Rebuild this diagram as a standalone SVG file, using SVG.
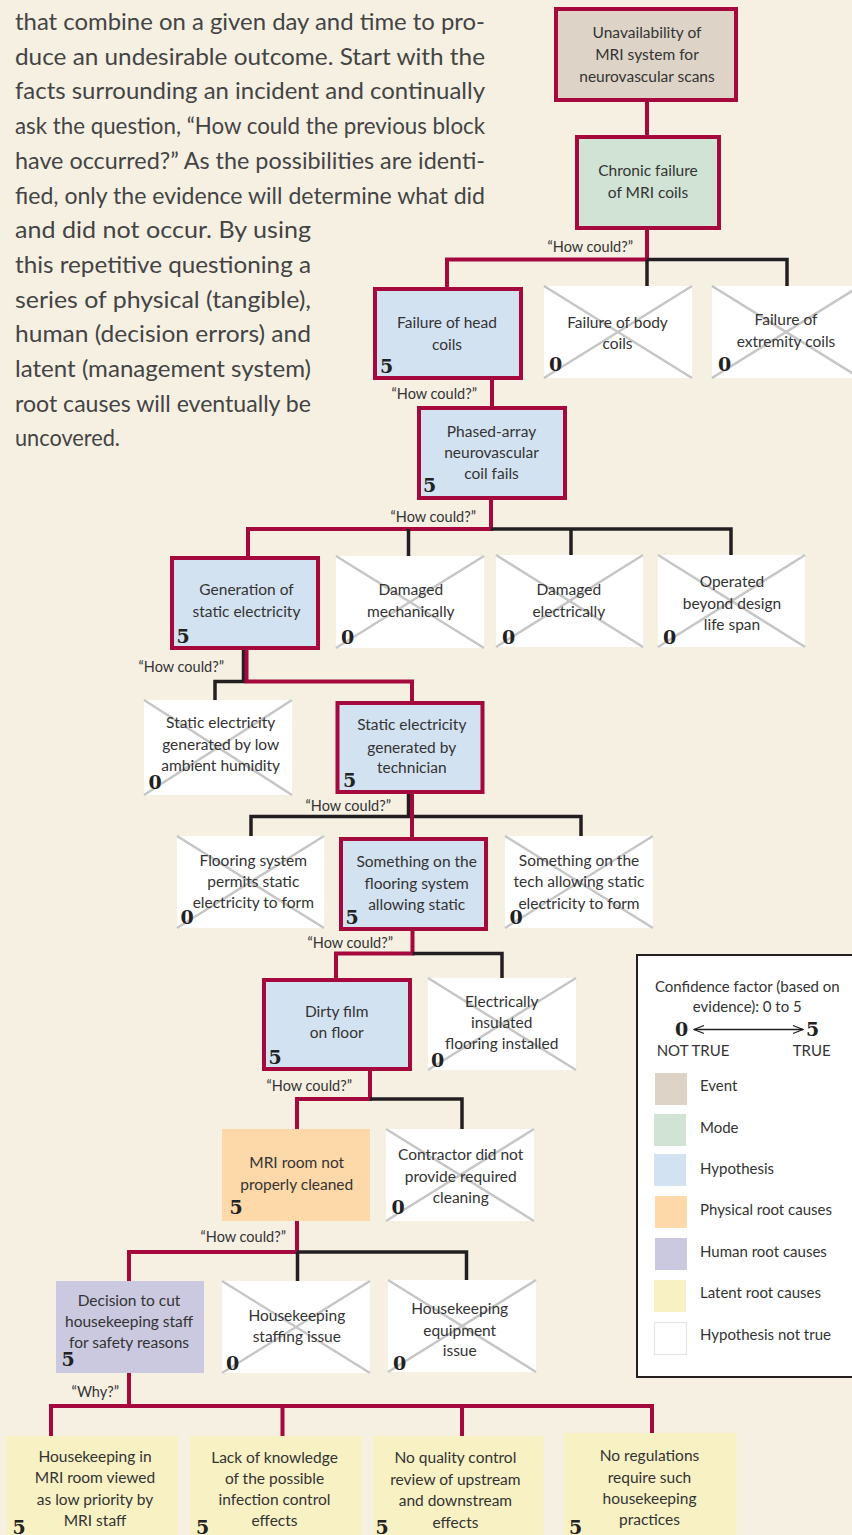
<svg xmlns="http://www.w3.org/2000/svg" width="852" height="1535" viewBox="0 0 852 1535">
<defs>
<style>
.bg{fill:#f6f0e3}
.cr{fill:none;stroke:#a4083c;stroke-width:4}
.bk{fill:none;stroke:#231f20;stroke-width:3.5}
.ev{fill:#ddd3c7;stroke:#a4083c;stroke-width:4}
.mo{fill:#d0e3d5;stroke:#a4083c;stroke-width:4}
.hy{fill:#d3e2f1;stroke:#a4083c;stroke-width:4}
.ph{fill:#fdd8a8}
.hu{fill:#cbc9e0}
.la{fill:#f8f1c4}
.nt{fill:#ffffff}
.x{stroke:#c6c6c6;stroke-width:2.5;fill:none}
.t{font-family:Lato,"Liberation Sans",sans-serif;font-size:15.5px;fill:#333;text-anchor:middle}
.n{font-family:"DejaVu Serif","Liberation Serif",serif;font-weight:bold;font-size:19px;fill:#222}
.lb{font-family:Lato,"Liberation Sans",sans-serif;font-size:14.5px;fill:#333;text-anchor:end}
.body{font-family:Lato,"Liberation Sans",sans-serif;font-size:23px;fill:#444}
.lg{font-family:Lato,"Liberation Sans",sans-serif;font-size:15px;fill:#333}
.sw{stroke:none}
</style>
<marker id="ah" viewBox="0 0 12 10" refX="11" refY="5" markerWidth="12" markerHeight="10" markerUnits="userSpaceOnUse" orient="auto-start-reverse">
<path d="M1,1 L11,5 L1,9" fill="none" stroke="#231f20" stroke-width="1.2"/>
</marker>
</defs>
<rect class="bg" x="0" y="0" width="852" height="1535"/>

<g id="body-text" class="body">
<text x="15" y="30" textLength="470" lengthAdjust="spacingAndGlyphs">that combine on a given day and time to pro-</text>
<text x="15" y="64.7" textLength="470" lengthAdjust="spacingAndGlyphs">duce an undesirable outcome. Start with the</text>
<text x="15" y="99.4" textLength="470" lengthAdjust="spacingAndGlyphs">facts surrounding an incident and continually</text>
<text x="15" y="134" textLength="470" lengthAdjust="spacingAndGlyphs">ask the question, “How could the previous block</text>
<text x="15" y="168.8" textLength="470" lengthAdjust="spacingAndGlyphs">have occurred?” As the possibilities are identi-</text>
<text x="15" y="203.5" textLength="470" lengthAdjust="spacingAndGlyphs">fied, only the evidence will determine what did</text>
<text x="15" y="238.2" textLength="296" lengthAdjust="spacingAndGlyphs">and did not occur. By using</text>
<text x="15" y="272.9" textLength="296" lengthAdjust="spacingAndGlyphs">this repetitive questioning a</text>
<text x="15" y="307.6" textLength="296" lengthAdjust="spacingAndGlyphs">series of physical (tangible),</text>
<text x="15" y="342.3" textLength="296" lengthAdjust="spacingAndGlyphs">human (decision errors) and</text>
<text x="15" y="377" textLength="296" lengthAdjust="spacingAndGlyphs">latent (management system)</text>
<text x="15" y="411.7" textLength="296" lengthAdjust="spacingAndGlyphs">root causes will eventually be</text>
<text x="15" y="446.4" textLength="105" lengthAdjust="spacingAndGlyphs">uncovered.</text>
</g>

<g id="connectors">
<path class="cr" d="M647,102 V135"/>
<path class="cr" d="M647,230 V259.5 H447 V287"/>
<path class="bk" d="M647,259.5 H787 V286 M647,259.5 V286"/>
<path class="cr" d="M492,380 V406"/>
<path class="cr" d="M491,500 V529 H248 V556"/>
<path class="bk" d="M491,529 H731 V556 M408.5,529 V556 M571,529 V556"/>
<path class="bk" d="M243.5,650 V681.5 H215 V700"/>
<path class="cr" d="M246.5,650 V681.5 H412 V701"/>
<path class="bk" d="M408.5,794 V816.5 H251 V836 M408.5,816.5 H581 V836"/>
<path class="cr" d="M412,794 V837"/>
<path class="cr" d="M412.5,931 V953.5 H336 V978"/>
<path class="bk" d="M412.5,953.5 H502 V978"/>
<path class="cr" d="M370,1071 V1099 H297 V1129"/>
<path class="bk" d="M370,1099 H462 V1129"/>
<path class="cr" d="M297,1221 V1252 H129 V1281"/>
<path class="bk" d="M297,1252 H466.5 V1281 M297.5,1252 V1281"/>
<path class="cr" d="M129,1373 V1406 M51,1436 V1406 H652 V1433 M282.5,1406 V1436 M462,1406 V1436"/>
<text class="lb" x="633" y="252">“How could?”</text>
<text class="lb" x="477" y="399">“How could?”</text>
<text class="lb" x="476" y="521.5">“How could?”</text>
<text class="lb" x="224" y="671.5">“How could?”</text>
<text class="lb" x="391" y="811">“How could?”</text>
<text class="lb" x="393" y="947.5">“How could?”</text>
<text class="lb" x="352" y="1090.5">“How could?”</text>
<text class="lb" x="286" y="1242">“How could?”</text>
<text class="lb" x="119" y="1396.5">“Why?”</text>
</g>

<g id="n1"><rect class="ev" x="556" y="9" width="180" height="91"/>
<text class="t" x="647" y="37.5">Unavailability of</text><text class="t" x="647" y="59.5">MRI system for</text><text class="t" x="647" y="81.5">neurovascular scans</text></g>

<g id="n2"><rect class="mo" x="577" y="137" width="142" height="91"/>
<text class="t" x="648" y="176">Chronic failure</text><text class="t" x="648" y="197.5">of MRI coils</text></g>

<g id="n3"><rect class="hy" x="375" y="289" width="146" height="89"/>
<text class="t" x="447" y="328.3">Failure of head</text><text class="t" x="447" y="350">coils</text><text class="n" x="380" y="373">5</text></g>

<g id="n4"><rect class="nt" x="544" y="286" width="148" height="92"/><path class="x" d="M544,286 L692,378 M692,286 L544,378"/>
<text class="t" x="617.5" y="327.7">Failure of body</text><text class="t" x="617.5" y="348.5">coils</text><text class="n" x="549" y="371">0</text></g>

<g id="n5"><rect class="nt" x="712" y="286" width="148" height="92"/><path class="x" d="M712,286 L860,378 M860,286 L712,378"/>
<text class="t" x="786" y="325">Failure of</text><text class="t" x="786" y="346.7">extremity coils</text><text class="n" x="718" y="371">0</text></g>

<g id="n6"><rect class="hy" x="419" y="408" width="146" height="90"/>
<text class="t" x="491.5" y="436.7">Phased-array</text><text class="t" x="491.5" y="457.7">neurovascular</text><text class="t" x="491.5" y="479.3">coil fails</text><text class="n" x="423" y="492">5</text></g>

<g id="n7"><rect class="hy" x="172" y="558" width="146" height="90"/>
<text class="t" x="246.5" y="595">Generation of</text><text class="t" x="246.5" y="616.7">static electricity</text><text class="n" x="176.5" y="642.5">5</text></g>

<g id="n8"><rect class="nt" x="336" y="556" width="148" height="92"/><path class="x" d="M336,556 L484,648 M484,556 L336,648"/>
<text class="t" x="410.8" y="594.5">Damaged</text><text class="t" x="410.8" y="616.7">mechanically</text><text class="n" x="341" y="644">0</text></g>

<g id="n9"><rect class="nt" x="496" y="555" width="147" height="92"/><path class="x" d="M496,555 L643,647 M643,555 L496,647"/>
<text class="t" x="568.8" y="595">Damaged</text><text class="t" x="568.8" y="617">electrically</text><text class="n" x="502" y="644">0</text></g>

<g id="n10"><rect class="nt" x="658" y="555" width="147" height="92"/><path class="x" d="M658,555 L805,647 M805,555 L658,647"/>
<text class="t" x="732" y="587.3">Operated</text><text class="t" x="732" y="608.5">beyond design</text><text class="t" x="732" y="630">life span</text><text class="n" x="663" y="644">0</text></g>

<g id="n11"><rect class="nt" x="144" y="700" width="148" height="95"/><path class="x" d="M144,700 L292,795 M292,700 L144,795"/>
<text class="t" x="220.7" y="728.3">Static electricity</text><text class="t" x="220.7" y="749.5">generated by low</text><text class="t" x="220.7" y="771">ambient humidity</text><text class="n" x="148.5" y="789">0</text></g>

<g id="n12"><rect class="hy" x="337.5" y="703" width="145" height="89"/>
<text class="t" x="411.8" y="730">Static electricity</text><text class="t" x="411.8" y="752.5">generated by</text><text class="t" x="411.8" y="773.3">technician</text><text class="n" x="343" y="787">5</text></g>

<g id="n13"><rect class="nt" x="177" y="836" width="147" height="92"/><path class="x" d="M177,836 L324,928 M324,836 L177,928"/>
<text class="t" x="253.3" y="866">Flooring system</text><text class="t" x="253.3" y="887.3">permits static</text><text class="t" x="253.3" y="908.3">electricity to form</text><text class="n" x="180.5" y="924">0</text></g>

<g id="n14"><rect class="hy" x="341" y="839" width="145" height="90"/>
<text class="t" x="416.7" y="867.3">Something on the</text><text class="t" x="416.7" y="889.3">flooring system</text><text class="t" x="416.7" y="910">allowing static</text><text class="n" x="345.5" y="923.5">5</text></g>

<g id="n15"><rect class="nt" x="505" y="836" width="148" height="92"/><path class="x" d="M505,836 L653,928 M653,836 L505,928"/>
<text class="t" x="579" y="865.7">Something on the</text><text class="t" x="579" y="886.7">tech allowing static</text><text class="t" x="579" y="909">electricity to form</text><text class="n" x="509.5" y="924">0</text></g>

<g id="n16"><rect class="hy" x="264" y="980" width="146" height="89"/>
<text class="t" x="336.7" y="1016.7">Dirty film</text><text class="t" x="336.7" y="1038.3">on floor</text><text class="n" x="268.5" y="1064">5</text></g>

<g id="n17"><rect class="nt" x="428" y="978" width="148" height="92"/><path class="x" d="M428,978 L576,1070 M576,978 L428,1070"/>
<text class="t" x="501.7" y="1006.7">Electrically</text><text class="t" x="501.7" y="1028.3">insulated</text><text class="t" x="501.7" y="1049.3">flooring installed</text><text class="n" x="431" y="1067">0</text></g>

<g id="n18"><rect class="ph" x="222" y="1129" width="148" height="92"/>
<text class="t" x="296.7" y="1168.3">MRI room not</text><text class="t" x="296.7" y="1190">properly cleaned</text><text class="n" x="229.5" y="1214">5</text></g>

<g id="n19"><rect class="nt" x="386" y="1129" width="148" height="92"/><path class="x" d="M386,1129 L534,1221 M534,1129 L386,1221"/>
<text class="t" x="460.7" y="1160">Contractor did not</text><text class="t" x="460.7" y="1182.3">provide required</text><text class="t" x="460.7" y="1203.3">cleaning</text><text class="n" x="391.5" y="1214">0</text></g>

<g id="n20"><rect class="hu" x="56" y="1281" width="148" height="92"/>
<text class="t" x="129" y="1305.7">Decision to cut</text><text class="t" x="129" y="1326.7">housekeeping staff</text><text class="t" x="129" y="1348.3">for safety reasons</text><text class="n" x="61.5" y="1366">5</text></g>

<g id="n21"><rect class="nt" x="222" y="1281" width="148" height="92"/><path class="x" d="M222,1281 L370,1373 M370,1281 L222,1373"/>
<text class="t" x="296.8" y="1320.7">Housekeeping</text><text class="t" x="296.8" y="1341.7">staffing issue</text><text class="n" x="226" y="1370">0</text></g>

<g id="n22"><rect class="nt" x="388" y="1280" width="148" height="92"/><path class="x" d="M388,1280 L536,1372 M536,1280 L388,1372"/>
<text class="t" x="459.7" y="1314">Housekeeping</text><text class="t" x="459.7" y="1335.7">equipment</text><text class="t" x="459.7" y="1356">issue</text><text class="n" x="393" y="1370">0</text></g>

<g id="n23"><rect class="la" x="6.5" y="1436" width="171.5" height="110"/>
<text class="t" x="95" y="1461.7">Housekeeping in</text><text class="t" x="95" y="1483.3">MRI room viewed</text><text class="t" x="95" y="1504.5">as low priority by</text><text class="t" x="95" y="1526">MRI staff</text><text class="n" x="12.5" y="1534">5</text></g>

<g id="n24"><rect class="la" x="190" y="1436" width="171.5" height="110"/>
<text class="t" x="274.5" y="1462.7">Lack of knowledge</text><text class="t" x="274.5" y="1483.5">of the possible</text><text class="t" x="274.5" y="1505">infection control</text><text class="t" x="274.5" y="1526">effects</text><text class="n" x="196" y="1534">5</text></g>

<g id="n25"><rect class="la" x="373" y="1436" width="170.5" height="110"/>
<text class="t" x="455.4" y="1463.3">No quality control</text><text class="t" x="455.4" y="1485">review of upstream</text><text class="t" x="455.4" y="1506">and downstream</text><text class="t" x="455.4" y="1527.7">effects</text><text class="n" x="375.5" y="1534">5</text></g>

<g id="n26"><rect class="la" x="564" y="1433" width="172.5" height="110"/>
<text class="t" x="649.5" y="1461">No regulations</text><text class="t" x="649.5" y="1482.7">require such</text><text class="t" x="649.5" y="1504">housekeeping</text><text class="t" x="649.5" y="1525">practices</text><text class="n" x="569" y="1534">5</text></g>

<g id="legend">
<rect x="637" y="955" width="230" height="422" fill="#ffffff" stroke="#231f20" stroke-width="2"/>
<text class="lg" x="747.3" y="991.7" text-anchor="middle">Confidence factor (based on</text>
<text class="lg" x="747.3" y="1011.7" text-anchor="middle">evidence): 0 to 5</text>
<text class="n" x="681.7" y="1036" text-anchor="middle">0</text>
<text class="n" x="812.7" y="1036" text-anchor="middle">5</text>
<path d="M694,1029.5 H803" stroke="#231f20" stroke-width="1.3" fill="none" marker-start="url(#ah)" marker-end="url(#ah)"/>
<text class="lg" x="693" y="1056" text-anchor="middle" font-size="14.5">NOT TRUE</text>
<text class="lg" x="811.7" y="1056" text-anchor="middle" font-size="14.5">TRUE</text>
<rect class="sw" x="655" y="1073" width="32" height="32" fill="#ddd3c7"/><text class="lg" x="700" y="1090.7">Event</text>
<rect class="sw" x="654" y="1114" width="32" height="32" fill="#d0e3d5"/><text class="lg" x="700" y="1132.7">Mode</text>
<rect class="sw" x="654" y="1154" width="32" height="32" fill="#d3e2f1"/><text class="lg" x="700" y="1173.5">Hypothesis</text>
<rect class="sw" x="655" y="1196" width="32" height="32" fill="#fdd8a8"/><text class="lg" x="700" y="1215">Physical root causes</text>
<rect class="sw" x="655" y="1238" width="32" height="32" fill="#cbc9e0"/><text class="lg" x="700" y="1256.7">Human root causes</text>
<rect class="sw" x="654" y="1280" width="32" height="32" fill="#f8f1c4"/><text class="lg" x="700" y="1297.7">Latent root causes</text>
<rect x="654.5" y="1322.5" width="32" height="32" fill="#ffffff" stroke="#e4e4e4" stroke-width="1.2"/><text class="lg" x="700" y="1340">Hypothesis not true</text>
</g>
</svg>
